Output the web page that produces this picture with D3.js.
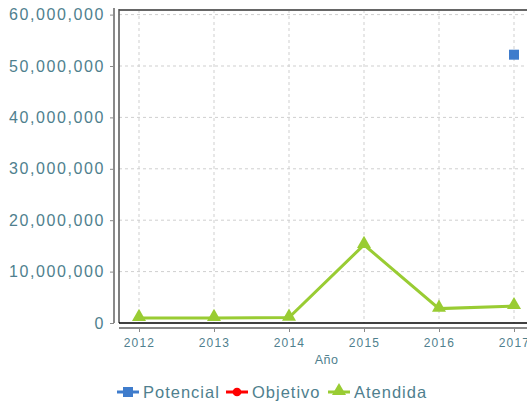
<!DOCTYPE html>
<html>
<head>
<meta charset="utf-8">
<script src="https://cdn.jsdelivr.net/npm/d3@7"></script>
<style>
  body { margin: 0; background: #fff; overflow: hidden; }
  text { font-family: "Liberation Sans", Arial, sans-serif; fill: #4f7f8e; }
</style>
</head>
<body>
<script>
// chart data
var years = [2012, 2013, 2014, 2015, 2016, 2017];
var potencial = [null, null, null, null, null, 52200000];
var objetivo = [null, null, null, null, null, null];
var atendida = [980000, 990000, 1050000, 15200000, 2800000, 3300000];
var yTicks = [0, 10000000, 20000000, 30000000, 40000000, 50000000, 60000000];
var seriesNames = ["Potencial", "Objetivo", "Atendida"];

var colors = { Potencial: "#3f7ccc", Objetivo: "#ff0000", Atendida: "#99cc33" };

var width = 527, height = 402;
var plot = { left: 119, top: 10, right: 534, bottom: 323 };

var svg = d3.select("body").append("svg")
  .attr("width", width)
  .attr("height", height);

var x = d3.scalePoint()
  .domain(years)
  .range([139, 514]);

var y = d3.scaleLinear()
  .domain([0, 60000000])
  .range([plot.bottom, 14.6]);

var fmt = d3.format(",");

// gridlines
var grid = svg.append("g").attr("class", "grid");
grid.selectAll(".hgrid")
  .data(yTicks.filter(function(d) { return d > 0; }))
  .enter().append("line")
  .attr("x1", plot.left).attr("x2", plot.right)
  .attr("y1", function(d) { return y(d); })
  .attr("y2", function(d) { return y(d); })
  .attr("stroke", "#cfcfcf")
  .attr("stroke-dasharray", "3,3");
grid.selectAll(".vgrid")
  .data(years)
  .enter().append("line")
  .attr("x1", function(d) { return x(d); })
  .attr("x2", function(d) { return x(d); })
  .attr("y1", plot.top).attr("y2", plot.bottom)
  .attr("stroke", "#cfcfcf")
  .attr("stroke-dasharray", "3,3");

// plot frame: top and left
svg.append("line")
  .attr("x1", plot.left).attr("x2", plot.right)
  .attr("y1", plot.top).attr("y2", plot.top)
  .attr("stroke", "#666").attr("stroke-width", 2);
svg.append("line")
  .attr("x1", plot.left).attr("x2", plot.left)
  .attr("y1", plot.top - 1).attr("y2", plot.bottom)
  .attr("stroke", "#555").attr("stroke-width", 1.5);

// zero line
svg.append("line")
  .attr("x1", plot.left).attr("x2", plot.right)
  .attr("y1", y(0)).attr("y2", y(0))
  .attr("stroke", "#000").attr("stroke-width", 1.5);

// left axis
var yAxis = svg.append("g")
  .attr("transform", "translate(114,0)")
  .call(d3.axisLeft(y).tickValues(yTicks).tickFormat(fmt).tickSize(4).tickPadding(5));
yAxis.select(".domain").attr("stroke", "#8a8a8a").attr("stroke-width", 2)
  .attr("d", "M0," + (plot.top - 2) + "V" + plot.bottom);
yAxis.selectAll(".tick line").attr("stroke", "#8a8a8a");
yAxis.selectAll(".tick text")
  .style("font-size", "16px")
  .style("letter-spacing", "1.6px")
  .attr("fill", "#4f7f8e");

// bottom axis
var xAxis = svg.append("g")
  .attr("transform", "translate(0,328)")
  .call(d3.axisBottom(x).tickSize(4).tickPadding(6));
xAxis.select(".domain").attr("stroke", "#8a8a8a").attr("stroke-width", 2)
  .attr("d", "M" + plot.left + ",0H" + plot.right);
xAxis.selectAll(".tick line").attr("stroke", "#8a8a8a");
xAxis.selectAll(".tick text")
  .style("font-size", "12px")
  .style("letter-spacing", "1.2px")
  .attr("fill", "#4f7f8e");

svg.append("text")
  .attr("x", (plot.left + plot.right) / 2)
  .attr("y", 364)
  .attr("text-anchor", "middle")
  .style("font-size", "12.5px")
  .style("letter-spacing", "0.5px")
  .text("Año");

// series
var series = [
  { name: "Potencial", values: potencial },
  { name: "Objetivo", values: objetivo },
  { name: "Atendida", values: atendida }
];

var line = d3.line()
  .defined(function(d) { return d.v != null; })
  .x(function(d) { return x(d.year); })
  .y(function(d) { return y(d.v); });

var triangle = d3.symbol().type(d3.symbolTriangle).size(85);
var square = d3.symbol().type(d3.symbolSquare).size(100);
var circle = d3.symbol().type(d3.symbolCircle).size(60);
var shapes = { Potencial: square, Objetivo: circle, Atendida: triangle };

series.forEach(function(s) {
  var pts = years.map(function(yr, i) { return { year: yr, v: s.values[i] }; });
  svg.append("path")
    .datum(pts)
    .attr("d", line)
    .attr("fill", "none")
    .attr("stroke", colors[s.name])
    .attr("stroke-width", 3);
  svg.selectAll(".pt-" + s.name)
    .data(pts.filter(function(d) { return d.v != null; }))
    .enter().append("path")
    .attr("transform", function(d) {
      var dy = s.name == "Atendida" ? -1 : 0;
      return "translate(" + x(d.year) + "," + (y(d.v) + dy) + ")";
    })
    .attr("d", shapes[s.name]())
    .attr("fill", colors[s.name]);
});

// legend
var legendX = [117, 226, 328];
var legend = svg.append("g").attr("class", "legend");
seriesNames.forEach(function(name, i) {
  var g = legend.append("g").attr("transform", "translate(" + legendX[i] + ",392)");
  g.append("line")
    .attr("x1", 0).attr("x2", 22)
    .attr("stroke", colors[name]).attr("stroke-width", 3);
  g.append("path")
    .attr("transform", "translate(11," + (name == "Atendida" ? -1 : 0) + ")")
    .attr("d", shapes[name]())
    .attr("fill", colors[name]);
  g.append("text")
    .attr("x", 26)
    .attr("y", 6)
    .style("font-size", "16.5px")
    .style("letter-spacing", "1px")
    .text(name);
});
</script>
</body>
</html>
